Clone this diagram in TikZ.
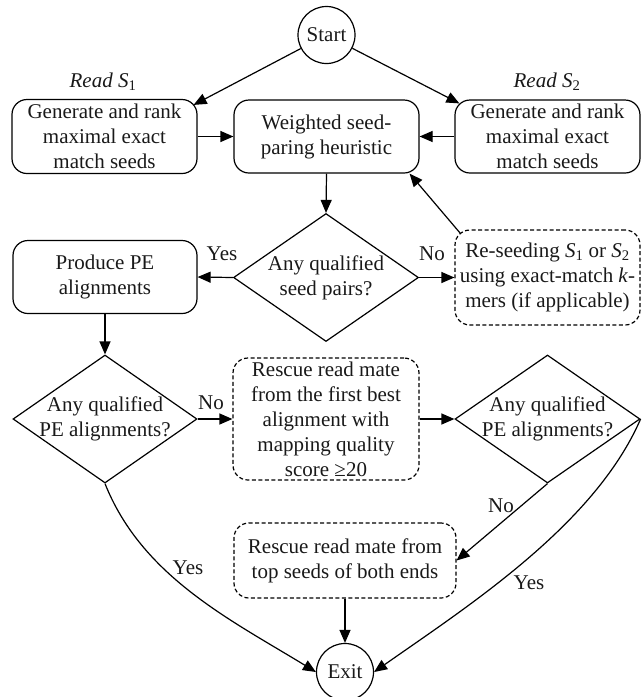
\documentclass[tikz,border=0pt]{standalone}
\usepackage{fontspec}
\setmainfont{Liberation Serif}
\usetikzlibrary{arrows.meta,shapes.geometric}
\begin{document}
\begin{tikzpicture}[x=1pt,y=-1pt,
  every node/.style={font=\fontsize{21}{25}\selectfont, inner sep=0pt, align=center, text=black!90},
  proc/.style={draw, line width=1.2pt, rounded corners=15pt},
  dproc/.style={proc, dash pattern=on 4pt off 2.5pt},
  decision/.style={draw, diamond, line width=1.2pt, minimum width=185pt, minimum height=128pt},
  terminal/.style={draw, circle, line width=1.2pt, minimum size=57pt},
  lbl/.style={},
  arr/.style={line width=1.2pt, -{Triangle[length=13pt,width=11pt]}}
]
\useasboundingbox (0,0) rectangle (641,697);

% terminals
\node[terminal] (start) at (326.5,35) {Start};
\node[terminal] (exit) at (345,672) {Exit};

% read labels
\node[lbl] (read1) at (103,82) {\textit{Read S}\textsubscript{1}};
\node[lbl] (read2) at (547,82) {\textit{Read S}\textsubscript{2}};

% top row
\node[proc, minimum width=185pt, minimum height=74pt] (lbox) at (104.5,136.5) {Generate and rank\\maximal exact\\match seeds};
\node[proc, minimum width=185pt, minimum height=73pt] (mbox) at (326.5,136.5) {Weighted seed-\\paring heuristic};
\node[proc, minimum width=185pt, minimum height=73pt] (rbox) at (547.5,136.5) {Generate and rank\\maximal exact\\match seeds};

% second row
\node[proc, minimum width=184pt, minimum height=73pt] (pbox) at (105,277) {Produce PE\\alignments};
\node[decision] (d1) at (326,277.5) {};
\node[lbl] (d1t) at (d1.center) {Any qualified\\seed pairs?};
\node[dproc, minimum width=185pt, minimum height=95pt] (rs1) at (547.5,277.5) {Re-seeding \textit{S}\textsubscript{1} or \textit{S}\textsubscript{2}\\using exact-match \textit{k}-\\mers (if applicable)};

% third row
\node[decision, minimum width=184pt] (d2) at (105,419) {};
\node[lbl] (d2t) at (d2.center) {Any qualified\\PE alignments?};
\node[dproc, minimum width=186pt, minimum height=122pt] (rs2) at (326,419) {Rescue read mate\\from the first best\\alignment with\\mapping quality\\score ≥20};
\node[decision] (d3) at (547.5,419) {};
\node[lbl] (d3t) at (d3.center) {Any qualified\\PE alignments?};

% fourth row
\node[dproc, minimum width=222pt, minimum height=75pt] (rs3) at (345,560.5) {Rescue read mate from\\top seeds of both ends};

% connectors
\draw[arr] (start) -- ([xshift=-4pt,yshift=-6pt]lbox.north east);
\draw[arr] (start) -- ([xshift=5pt,yshift=-4pt]rbox.north west);
\draw[arr] (lbox.east) -- (mbox.west);
\draw[arr] (rbox.west) -- (mbox.east);
\draw[arr] (mbox.south) -- (d1.north);
\draw[arr] (d1.west) -- (pbox.east);
\draw[arr] (d1.east) -- (rs1.west);
\draw[arr] ([xshift=6pt,yshift=-4pt]rs1.north west) -- ([xshift=-10pt]mbox.south east);
\draw[arr] (pbox.south) -- (d2.north);
\draw[arr] (d2.east) -- (rs2.west);
\draw[arr] (rs2.east) -- (d3.west);
\draw[arr] (d3.south) -- (rs3.east);
\draw[arr] (rs3.south) -- (exit.north);
\draw[arr] (d2.south) .. controls +(37,93) and +(-85,-52) .. (exit.west);
\draw[arr] (d3.east) .. controls +(-46,106) and +(94,-66) .. (exit.east);

% branch labels
\node[lbl] (y1) at (222,254) {Yes};
\node[lbl] (n1) at (432,254) {No};
\node[lbl] (n2) at (211,403) {No};
\node[lbl] (n3) at (501,506) {No};
\node[lbl] (y2) at (188,568) {Yes};
\node[lbl] (y3) at (529,583) {Yes};
\end{tikzpicture}
\end{document}
